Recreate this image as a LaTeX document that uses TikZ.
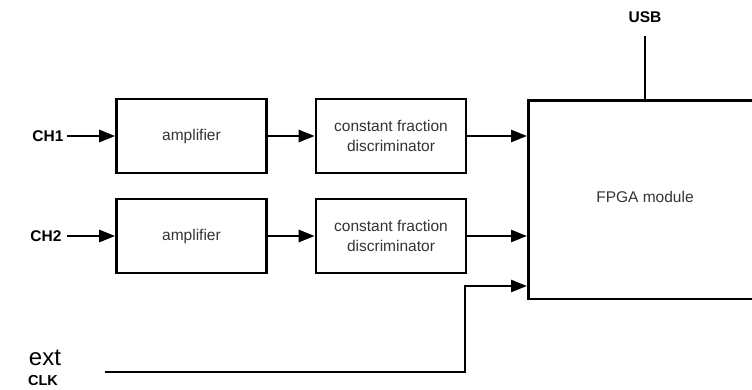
\documentclass[tikz,border=0pt]{standalone}
\usepackage{fontspec}
\setmainfont{Liberation Sans}
\usetikzlibrary{arrows.meta}
\begin{document}
\begin{tikzpicture}[x=1pt,y=-1pt,
  box/.style={draw,line width=2.6pt,inner sep=0pt,font=\fontsize{15.5}{20}\selectfont,align=center,text=black!80},
  lbl/.style={font=\fontsize{15.5}{18}\selectfont\bfseries},
  conn/.style={line width=2.6pt,-{Triangle[length=16pt,width=12pt]}},
  wire/.style={line width=2.6pt}]
\useasboundingbox (0,0) rectangle (752,389);
\clip (0,0) rectangle (752,389);
\node[box,minimum width=150pt,minimum height=74pt] (amp1) at (191.5,136) {amplifier};
\node[box,minimum width=150pt,minimum height=74pt] (amp2) at (191.5,236) {amplifier};
\node[box,minimum width=150pt,minimum height=74pt] (cfd1) at (391,136) {constant fraction\\discriminator};
\node[box,minimum width=150pt,minimum height=74pt] (cfd2) at (391,236) {constant fraction\\discriminator};
\node[box,minimum width=250pt,minimum height=198.5pt,anchor=north west] (fpga) at (527,99) {};
\node[font=\fontsize{15.5}{18}\selectfont,text=black!80] (fpgat) at (645,197) {FPGA module};
\node[lbl] (ch1) at (48,136) {CH1};
\node[lbl] (ch2) at (46,236) {CH2};
\node[lbl] (usb) at (645,17) {USB};
\node[font=\fontsize{24}{26}\selectfont] (ext) at (45,358) {ext};
\node[font=\fontsize{14.5}{16}\selectfont\bfseries] (clk) at (43,381) {CLK};
\coordinate (s1) at (67,136);
\coordinate (s2) at (67,236);
\coordinate (u) at (645,36);
\coordinate (c0) at (105,372);
\coordinate (c1) at (465,372);
\coordinate (c2) at (465,286);
\coordinate (f1) at (527,136);
\coordinate (f2) at (527,236);
\coordinate (f3) at (527,286);
\draw[conn] (s1) -- (amp1.west);
\draw[conn] (s2) -- (amp2.west);
\draw[conn] (amp1.east) -- (cfd1.west);
\draw[conn] (amp2.east) -- (cfd2.west);
\draw[conn] (cfd1.east) -- (f1);
\draw[conn] (cfd2.east) -- (f2);
\draw[wire] (u) -- (u |- fpga.north);
\draw[conn] (c0) -- (c1) -- (c2) -- (f3);
\end{tikzpicture}
\end{document}
